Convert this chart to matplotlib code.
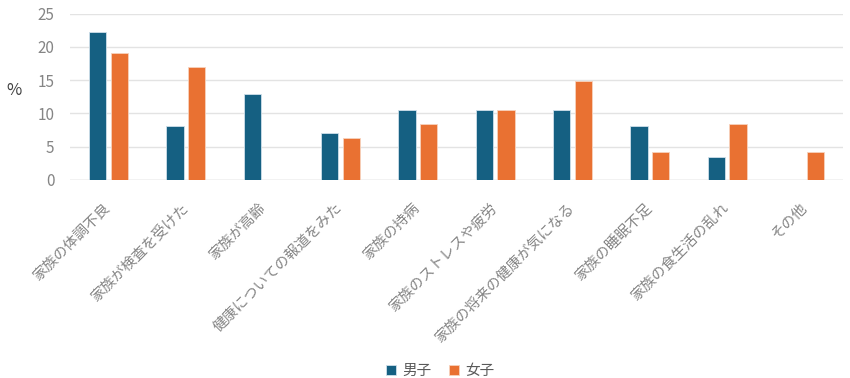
import numpy as np
import matplotlib
matplotlib.use("Agg")
from matplotlib import pyplot as plt
from matplotlib import transforms

plt.rcParams['font.family'] = ['Noto Sans CJK JP', 'DejaVu Sans']

# data
categories = ["家族の体調不良", "家族が検査を受けた", "家族が高齢", "健康についての報道をみた",
              "家族の持病", "家族のストレスや疲労", "家族の将来の健康が気になる",
              "家族の睡眠不足", "家族の食生活の乱れ", "その他"]
boys = [22.3, 8.1, 12.9, 7.0, 10.5, 10.5, 10.5, 8.1, 3.4, 0]
girls = [19.1, 16.9, 0, 6.3, 8.4, 10.5, 14.8, 4.2, 8.4, 4.2]
series_names = ["男子", "女子"]

c_boys = "#156082"
c_girls = "#E97132"
txt = "#858585"

fig = plt.figure(figsize=(8.5, 3.78), dpi=100)
ax = fig.add_axes([0.082, 0.524, 0.910, 0.44])

x = np.arange(len(categories))
w = 0.225
off = 0.14
ax.bar(x - off, boys, w, color=c_boys, edgecolor="#cfe0ea", linewidth=0.6, label=series_names[0], zorder=3)
ax.bar(x + off, girls, w, color=c_girls, edgecolor="#f7d2bd", linewidth=0.6, label=series_names[1], zorder=3)

ax.set_xlim(-0.5, len(categories) - 0.5)
ax.set_ylim(0, 25)
ax.set_yticks(range(0, 26, 5))
ax.yaxis.grid(True, color="#e3e3e3", linewidth=1, zorder=0)
for s in ax.spines.values():
    s.set_visible(False)
ax.axhline(0, color="#d9d9d9", linewidth=1, zorder=2)

ax.tick_params(axis='y', length=0, labelsize=11, labelcolor=txt, pad=11)
ax.tick_params(axis='x', length=0, labelsize=10.5, labelcolor=txt, pad=15)
ax.set_xticks(x)
ax.set_xticklabels(categories, rotation=45, ha='right', rotation_mode='anchor')
# nudge the rotated labels a little to the left
shift = transforms.ScaledTranslation(-5 / 100, 0, fig.dpi_scale_trans)
for lab in ax.get_xticklabels():
    lab.set_transform(lab.get_transform() + shift)

fig.text(0.008, 0.76, "%", fontsize=12, color="#404040", va='center')

fig.legend(loc='lower center', bbox_to_anchor=(0.518, -0.035), ncol=2, frameon=False,
           fontsize=10.5, labelcolor="#595959", handlelength=0.65, handleheight=0.65,
           handletextpad=0.45, columnspacing=1.2)

fig.savefig("out.png", dpi=100)
